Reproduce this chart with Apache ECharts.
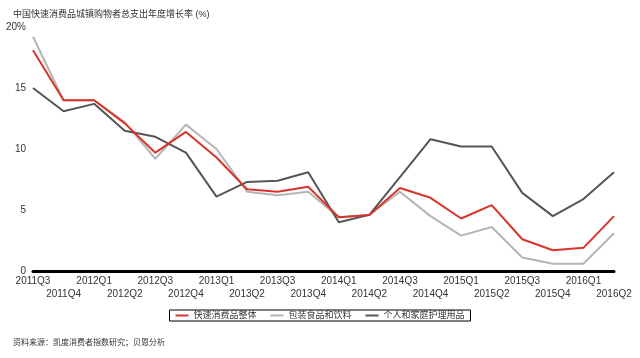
<!DOCTYPE html>
<html><head><meta charset="utf-8">
<script src="https://cdn.jsdelivr.net/npm/echarts@6/dist/echarts.min.js"></script>
<style>html,body{margin:0;padding:0;background:#fff}#c{width:640px;height:358px}</style>
</head><body><div id="c"></div>
<script>
const categories = ['2011Q3','2011Q4','2012Q1','2012Q2','2012Q3','2012Q4','2013Q1','2013Q2','2013Q3','2013Q4','2014Q1','2014Q2','2014Q3','2014Q4','2015Q1','2015Q2','2015Q3','2015Q4','2016Q1','2016Q2'];
const seriesNames = ['快速消费品整体','包装食品和饮料','个人和家庭护理用品'];
const fmcgTotal = [18.1,14.0,14.0,12.1,9.7,11.4,9.3,6.7,6.5,6.9,4.4,4.6,6.8,6.0,4.3,5.4,2.6,1.7,1.9,4.5];
const foodBeverage = [19.2,14.0,14.0,12.2,9.2,12.0,10.0,6.5,6.2,6.5,4.4,4.6,6.5,4.5,2.9,3.6,1.1,0.6,0.6,3.1];
const personalHome = [15.0,13.1,13.7,11.5,11.0,9.7,6.1,7.3,7.4,8.1,4.0,4.6,7.7,10.8,10.2,10.2,6.4,4.5,5.9,8.1];
const yTicks = [0,5,10,15,20];
const titleText = '中国快速消费品城镇购物者总支出年度增长率 (%)';
const sourceText = '资料来源：凯度消费者指数研究；贝恩分析';
const colors = ['#d9342b','#b5b5b5','#555555'];

const chart = echarts.init(document.getElementById('c'));
const ff = 'Liberation Sans, Noto Sans CJK SC, sans-serif';
chart.setOption({
  animation: false,
  textStyle: {fontFamily: ff},
  title: [
    {text: titleText, left: 8, top: 5, textStyle: {fontSize: 9, fontWeight: 'normal', color: '#333', fontFamily: ff}},
    {text: sourceText, left: 8, top: 334, textStyle: {fontSize: 8, fontWeight: 'normal', color: '#333', fontFamily: ff}}
  ],
  grid: {left: 33, right: 26, top: 27, bottom: 87, containLabel: false},
  legend: {
    data: seriesNames, left: 'center', top: 310,
    borderColor: '#000', borderWidth: 1, padding: [1, 6],
    itemWidth: 13, itemHeight: 2, itemGap: 14, icon: 'rect',
    textStyle: {fontSize: 9, color: '#333'}
  },
  xAxis: {
    type: 'category', data: categories, boundaryGap: false,
    axisLine: {lineStyle: {color: '#000', width: 3}},
    axisTick: {show: false},
    axisLabel: {
      interval: 0, margin: 4, fontSize: 10, lineHeight: 13, color: '#333',
      formatter: (v, i) => (i % 2 === 1 ? '\n' + v : v)
    }
  },
  yAxis: {
    type: 'value', min: 0, max: 20, interval: 5,
    axisLine: {show: false}, axisTick: {show: false}, splitLine: {show: false},
    axisLabel: {margin: 7, fontSize: 10, color: '#333',
      formatter: v => (yTicks.includes(v) ? (v === 20 ? v + '%' : String(v)) : '')}
  },
  series: [
    {name: seriesNames[0], type: 'line', data: fmcgTotal, symbol: 'none', z: 4, lineStyle: {width: 2, color: colors[0]}, itemStyle: {color: colors[0]}},
    {name: seriesNames[1], type: 'line', data: foodBeverage, symbol: 'none', z: 2, lineStyle: {width: 2, color: colors[1]}, itemStyle: {color: colors[1]}},
    {name: seriesNames[2], type: 'line', data: personalHome, symbol: 'none', z: 3, lineStyle: {width: 2, color: colors[2]}, itemStyle: {color: colors[2]}}
  ]
});
</script></body></html>
